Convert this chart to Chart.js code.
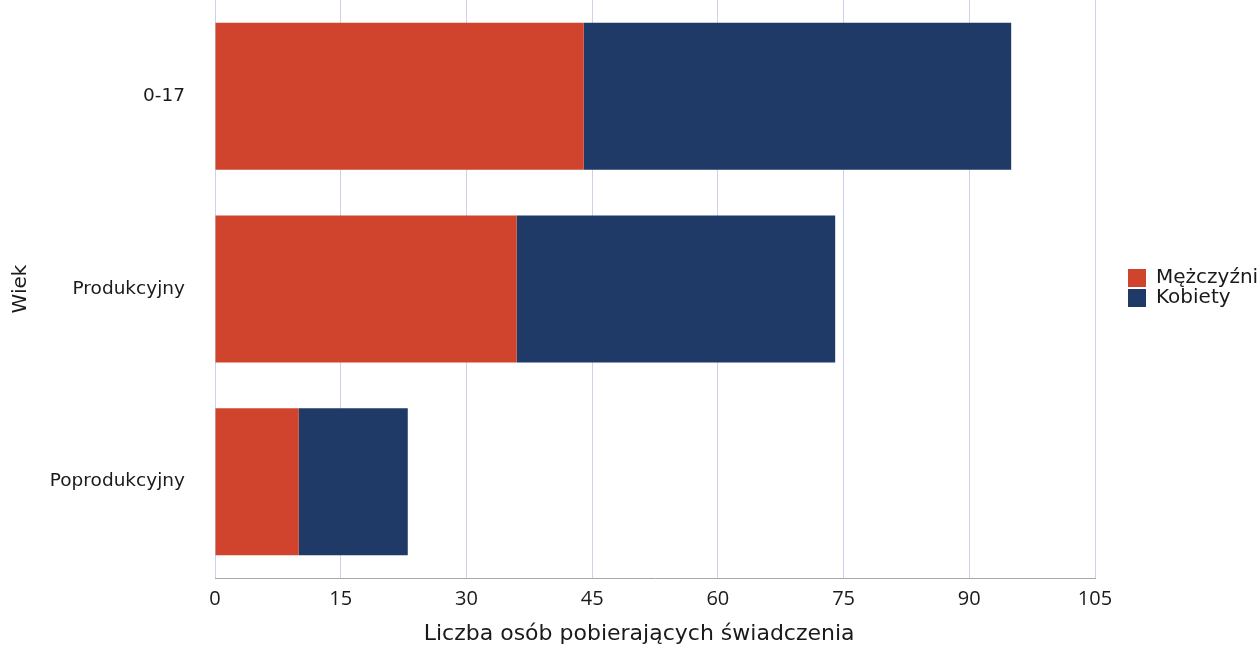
<!DOCTYPE html>
<html><head><meta charset="utf-8">
<script src="https://cdn.jsdelivr.net/npm/chart.js@4"></script>
<style>html,body{margin:0;padding:0;background:#fff;}#wrap{width:1260px;height:654px;position:relative;}</style>
</head><body>
<div id="wrap"><canvas id="c" width="1260" height="654"></canvas></div>
<script>
const categories = ['0-17', 'Produkcyjny', 'Poprodukcyjny'];
const men = [44, 36, 10];
const women = [51, 38, 13];
const xTicks = [0, 15, 30, 45, 60, 75, 90, 105];
const seriesNames = ['Mężczyźni', 'Kobiety'];
const xTitle = 'Liczba osób pobierających świadczenia';
const yTitle = 'Wiek';

new Chart(document.getElementById('c'), {
  type: 'bar',
  data: {
    labels: categories,
    datasets: [
      {label: seriesNames[0], data: men, backgroundColor: '#d0432c', borderWidth: 0, categoryPercentage: 1, barPercentage: 0.763},
      {label: seriesNames[1], data: women, backgroundColor: '#1f3a67', borderWidth: 0, categoryPercentage: 1, barPercentage: 0.763}
    ]
  },
  options: {
    indexAxis: 'y',
    responsive: false,
    animation: false,
    layout: {padding: {left: 0, right: 165, top: 0, bottom: 0}},
    plugins: {
      legend: {display: false},
      tooltip: {enabled: false}
    },
    scales: {
      x: {
        stacked: true, min: 0, max: 105,
        afterBuildTicks: s => { s.ticks = xTicks.map(v => ({value: v})); },
        afterFit: s => { s.height = 76; },
        grid: {color: '#cdd1ee', drawTicks: false, lineWidth: 1},
        border: {color: '#a8a8a8', width: 1},
        ticks: {color: '#1a1a1a', font: {family: 'Open Sans', size: 20}, padding: 9, maxRotation: 0},
        title: {display: false}
      },
      y: {
        stacked: true,
        afterFit: s => { s.width = 215; s.paddingTop = 0; s.paddingBottom = 0; },
        grid: {display: false, drawTicks: false},
        border: {display: false},
        ticks: {color: '#1a1a1a', font: {family: 'DejaVu Sans', size: 18.5}, padding: 30},
        title: {display: true, text: yTitle, color: '#1a1a1a', font: {family: 'DejaVu Sans', size: 20}, padding: {top: 9, bottom: 0}}
      }
    }
  },
  plugins: [{
    id: 'legendRight',
    afterDraw(chart) {
      const ctx = chart.ctx;
      const items = [{t: seriesNames[0], c: chart.data.datasets[0].backgroundColor}, {t: seriesNames[1], c: chart.data.datasets[1].backgroundColor}];
      ctx.save();
      ctx.font = '20px "DejaVu Sans"';
      ctx.textBaseline = 'middle';
      items.forEach((it, i) => {
        const y = 278 + i * 20;
        ctx.fillStyle = it.c;
        ctx.fillRect(1128, y - 9, 18, 18);
        ctx.fillStyle = '#1a1a1a';
        ctx.fillText(it.t, 1156, y);
      });
      // x-axis title (slightly left of plot centre, as in the reference)
      ctx.font = '22px "DejaVu Sans"';
      ctx.textAlign = 'center';
      ctx.fillText(xTitle, chart.chartArea.left + (chart.chartArea.right - chart.chartArea.left) * 0.482, 634);
      ctx.restore();
    }
  }]
});
</script>
</body></html>
